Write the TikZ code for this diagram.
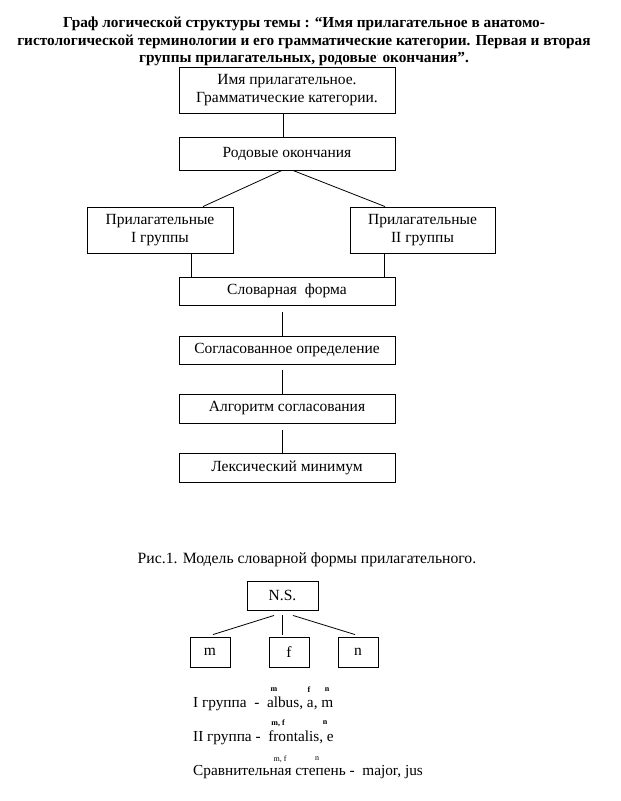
\documentclass[tikz,border=0pt]{standalone}
\usepackage{fontspec}
\setmainfont{Liberation Serif}
\begin{document}
\begin{tikzpicture}[x=1pt,y=-1pt,
  box/.style={draw,line width=0.9pt,inner sep=0pt,align=center,font=\fontsize{15.5}{17.5}\selectfont},
  link/.style={line width=0.8pt},
  sup/.style={inner sep=0pt,font=\fontsize{8}{8}\selectfont\bfseries},
  supn/.style={inner sep=0pt,font=\fontsize{8}{8}\selectfont},
  txt/.style={inner sep=0pt,anchor=west,font=\fontsize{15.3}{17}\selectfont}]
\useasboundingbox (0,0) rectangle (621,801);
\node[inner sep=0pt,align=center,font=\fontsize{15.3}{17.5}\selectfont\bfseries] (title) at (304,41.5)
  {Граф логической структуры темы : “Имя прилагательное в анатомо-\\
   гистологической терминологии и его грамматические категории. Первая и вторая\\
   группы прилагательных, родовые\raisebox{5pt}{\fontsize{6}{6}\selectfont\mdseries·}\ окончания”.};
\node[box,minimum width=216,minimum height=46] (top) at (287,90) {Имя прилагательное.\\Грамматические категории.};
\node[box,minimum width=216,minimum height=33] (rod) at (287,153.5) {Родовые окончания};
\node[box,minimum width=146,minimum height=46] (g1) at (160,230) {Прилагательные\\I группы};
\node[box,minimum width=145,minimum height=46] (g2) at (422.5,230) {Прилагательные\\II группы};
\node[box,minimum width=216,minimum height=28] (slov) at (287,291) {Словарная\ \ форма};
\node[box,minimum width=216,minimum height=28] (sogl) at (287,350) {Согласованное определение};
\node[box,minimum width=216,minimum height=29] (alg) at (287,408.5) {Алгоритм согласования};
\node[box,minimum width=216,minimum height=29] (lex) at (287,467.5) {Лексический минимум};

\draw[link] ([xshift=-4pt]top.south) -- ([xshift=-4pt]rod.north);
\draw[link] ([xshift=-5pt]rod.south) -- ([xshift=43pt]g1.north);
\draw[link] ([xshift=6pt]rod.south) -- ([xshift=-37.5pt]g2.north);
\draw[link] ([xshift=31pt]g1.south) -- ([xshift=31pt]g1.south |- slov.north);
\draw[link] ([xshift=-38.5pt]g2.south) -- ([xshift=-38.5pt]g2.south |- slov.north);
\draw[link] ([xshift=-5pt,yshift=-7pt]slov.south) -- ([xshift=-5pt]sogl.north);
\draw[link] ([xshift=-5pt,yshift=-6pt]sogl.south) -- ([xshift=-5pt]alg.north);
\draw[link] ([xshift=-5pt,yshift=-7pt]alg.south) -- ([xshift=-5pt]lex.north);

\node[inner sep=0pt,font=\fontsize{15.7}{17}\selectfont] (cap) at (307,560) {Рис.1. Модель словарной формы прилагательного.};

\node[box,minimum width=71,minimum height=29] (ns) at (282.5,595.5) {N.S.};
\node[box,minimum width=40,minimum height=30] (m) at (210,652) {m};
\node[box,minimum width=40,minimum height=30] (f) at (289,652) {f};
\node[box,minimum width=40,minimum height=30] (n) at (358,652) {n};
\draw[link] ([xshift=-8.5pt,yshift=-5pt]ns.south) -- ([xshift=3pt,yshift=2pt]m.north);
\draw[link] ([xshift=-0.5pt,yshift=-5pt]ns.south) -- ([xshift=-7pt,yshift=2pt]f.north);
\draw[link] ([xshift=10.5pt,yshift=-5pt]ns.south) -- ([xshift=-3pt,yshift=2pt]n.north);

\node[txt] (l1) at (193,704) {I группа\ \ -\ \ albus, a, m};
\node[sup] (l1m) at (274,690) {m};
\node[sup] (l1f) at (309,690) {f};
\node[sup] (l1n) at (327,690) {n};
\node[txt] (l2) at (193,738) {II группа -\ \ frontalis, e};
\node[sup] (l2mf) at (278,723) {m, f};
\node[sup] (l2n) at (325,723) {n};
\node[txt] (l3) at (193,772) {Сравнительная степень -\ \ major, jus};
\node[supn] (l3mf) at (280,759) {m, f};
\node[supn] (l3n) at (317,759) {n};
\end{tikzpicture}
\end{document}
